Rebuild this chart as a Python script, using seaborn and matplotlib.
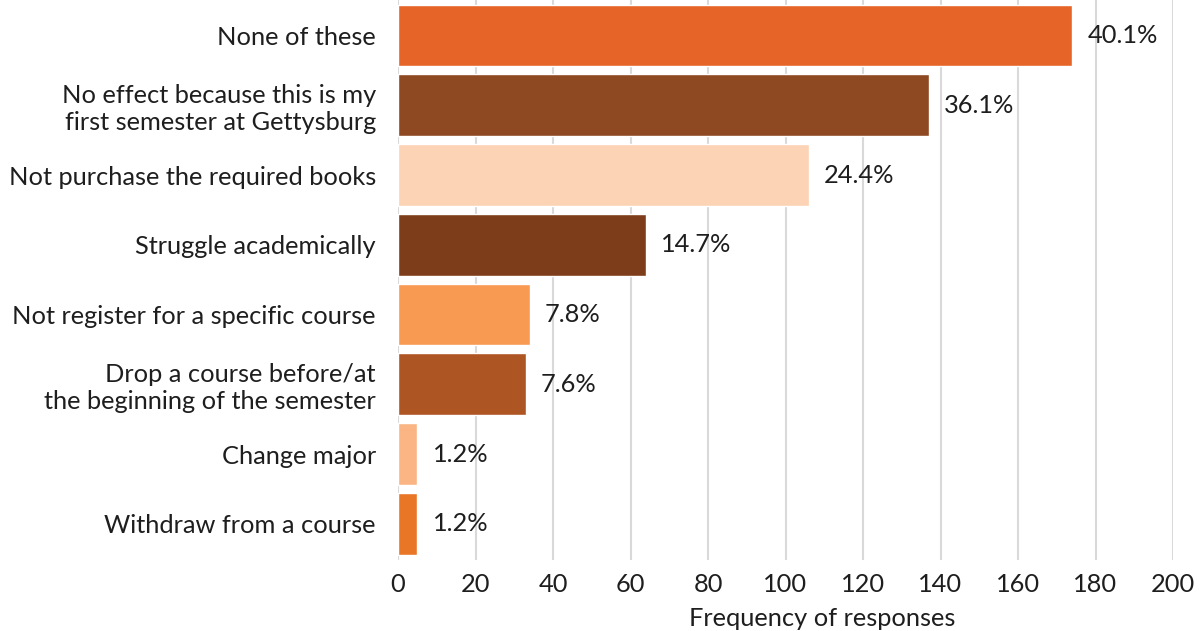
import pandas as pd
import seaborn as sns
import matplotlib.pyplot as plt

categories = ['None of these',
              'No effect because this is my\nfirst semester at Gettysburg',
              'Not purchase the required books',
              'Struggle academically',
              'Not register for a specific course',
              'Drop a course before/at\nthe beginning of the semester',
              'Change major',
              'Withdraw from a course']
counts = [174, 137, 106, 64, 34, 33, 5, 5]
pct_labels = ['40.1%', '36.1%', '24.4%', '14.7%', '7.8%', '7.6%', '1.2%', '1.2%']
bar_colors = ['#E66427', '#8E4822', '#FDD3B5', '#7D3D1A',
              '#F89A52', '#AE5524', '#FBB585', '#E97627']

df = pd.DataFrame({'cat': categories, 'count': counts})

sns.set_style('white')
plt.rcParams['font.family'] = ['Lato', 'DejaVu Sans']
fs = 18.3

fig = plt.figure(figsize=(12, 6.31), dpi=100)
ax = fig.add_axes([0.3317, 0.1125, 0.6458, 0.8875])

sns.barplot(data=df, x='count', y='cat', hue='cat', palette=bar_colors,
            legend=False, width=0.885, saturation=1, ax=ax)

for i, (v, lab) in enumerate(zip(counts, pct_labels)):
    ax.text(v + 3.9, i, lab, va='center', ha='left', fontsize=fs, color='#1e1e1e')

ax.set_xlim(0, 200)
ax.set_xticks(range(0, 201, 20))
ax.set_ylim(7.52, -0.51)
ax.xaxis.grid(True, color='#d9d9d9', linewidth=1.5)
ax.set_axisbelow(True)
for s in ax.spines.values():
    s.set_visible(False)
ax.tick_params(axis='both', length=0, labelsize=fs, colors='#1e1e1e')
ax.tick_params(axis='x', pad=9)
ax.tick_params(axis='y', pad=16)
ax.set_ylabel('')
ax.set_xlabel('Frequency of responses', fontsize=fs, color='#1e1e1e', va='center')
ax.xaxis.set_label_coords(0.547, -0.105)
for t in ax.get_yticklabels():
    t.set_horizontalalignment('right')
    t.set_multialignment('right')

fig.savefig('out.png', dpi=100)
